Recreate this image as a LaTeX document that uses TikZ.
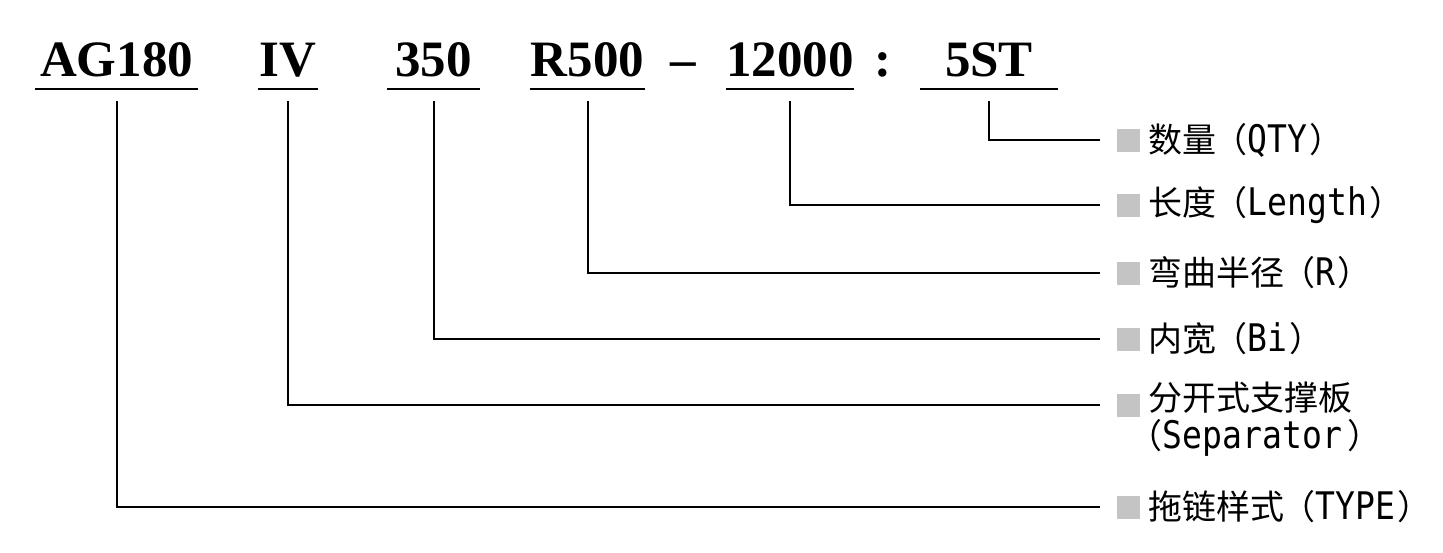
\documentclass[tikz,border=0pt]{standalone}
\usepackage{fontspec}
\usepackage{graphicx}
\usepackage{xcolor}
\usepackage{tikz}
\usetikzlibrary{positioning}
\newfontfamily\codefont{Liberation Serif}
\newfontfamily\cjk{Noto Sans CJK SC}
\newfontfamily\latmono{DejaVu Sans Mono}
\definecolor{markgrey}{HTML}{C4C4C4}
\newcommand{\latpart}[1]{\scalebox{0.87}[1]{\latmono\fontsize{19}{20}\selectfont #1}}
\newcommand{\partlbl}[2]{{\cjk #1\kern-1.5pt（}\latpart{#2}{\cjk\kern1pt ）}}

\begin{document}
\begin{tikzpicture}[
  x=0.5pt, y=-0.5pt,
  code/.style={font=\codefont\bfseries\fontsize{25.5}{30}\selectfont,
               anchor=base, inner xsep=0pt, inner ysep=6pt},
  uline/.style={line width=1pt},
  link/.style={line width=1pt, shorten <=6pt, shorten >=8.5pt},
  sqmark/.style={fill=markgrey, minimum size=11.5pt, inner sep=0pt},
  desc/.style={anchor=west, inner sep=0pt, align=left,
               font=\cjk\fontsize{17}{19}\selectfont}]
\useasboundingbox (0,0) rectangle (1443,552);

% ---------------- model code along the top ----------------
\foreach \n/\x/\w/\t in {ag/116.5/81.5/AG180, iv/288/30/IV, w350/433.5/46.5/350,
                         r500/587.5/57.5/R500, len12/790/63/12000, st/989/69/5ST}{
  \node[code, minimum width=\w pt] (\n) at (\x,76) {\t};
  \draw[uline] (\n.south west) -- (\n.south east);}
\node[code] (dash)  at (683,76) {–};
\node[code] (colon) at (883,76) {:};

% ---------------- grey marks and descriptions ----------------
\foreach \n/\y in {qty/140, len/205, rad/273, bi/339, sep/405, type/507}{
  \node[sqmark] (sq\n) at (1128.5,\y) {};}
\node[desc, right=4pt of sqqty]  (lqty)  {\partlbl{数量}{QTY}};
\node[desc, right=4pt of sqlen]  (llen)  {\partlbl{长度}{Length}};
\node[desc, right=4pt of sqrad]  (lrad)  {\partlbl{弯曲半径}{R}};
\node[desc, right=4pt of sqbi]   (lbi)   {\partlbl{内宽}{Bi}};
\node[desc, right=4pt of sqsep, yshift=-7pt] (lsep)
  {分开式支撑板\\\hspace*{-10pt}（\latpart{Separator}{\cjk\kern3pt ）}};
\node[desc, right=4pt of sqtype] (ltype) {\partlbl{拖链样式}{TYPE}};

% connectors: down from each code, across to its mark
\foreach \a/\b in {st/qty, len12/len, r500/rad, w350/bi, iv/sep, ag/type}{
  \draw[link] (\a.south) |- (sq\b.west);}
\end{tikzpicture}
\end{document}
